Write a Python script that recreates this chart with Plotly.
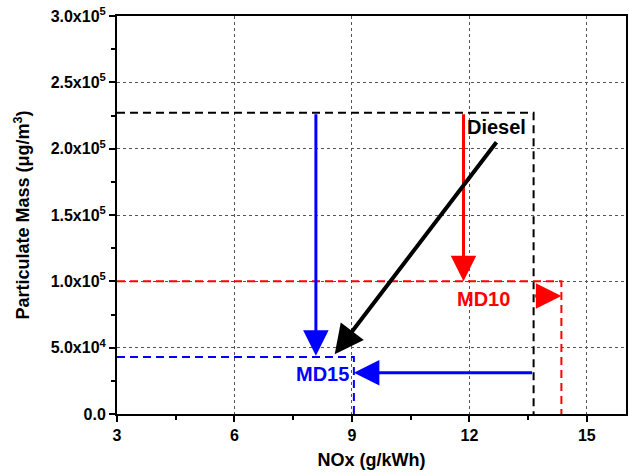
import plotly.graph_objects as go

# ---- data ----
fuels = ["Diesel", "MD10", "MD15"]
nox = [13.64, 14.35, 9.05]          # g/kWh
pm = [2.27e5, 1.0e5, 0.43e5]        # ug/m3
colors = ["black", "red", "blue"]

x_tick_vals = [3, 6, 9, 12, 15]
y_tick_vals = [0, 5e4, 1e5, 1.5e5, 2e5, 2.5e5, 3e5]
y_tick_text = ["0.0", "5.0x10<sup>4</sup>", "1.0x10<sup>5</sup>", "1.5x10<sup>5</sup>",
               "2.0x10<sup>5</sup>", "2.5x10<sup>5</sup>", "3.0x10<sup>5</sup>"]

# arrows: (tail_x, tail_y, tip_x, tip_y, color)
arrows = [
    (8.08, 2.27e5, 8.08, 0.44e5, "blue"),
    (11.85, 2.27e5, 11.85, 1.0e5, "red"),
    (13.64, 0.89e5, 14.35, 0.89e5, "red"),
    (13.64, 0.31e5, 9.05, 0.31e5, "blue"),
    (12.72, 2.06e5, 8.56, 0.45e5, "black"),
]
# labels: (text, x, y, color)
labels = [
    ("Diesel", 12.69, 2.16e5, "black"),
    ("MD10", 12.36, 0.87e5, "red"),
    ("MD15", 8.25, 0.30e5, "blue"),
]

FONT = "Liberation Sans, Arial, sans-serif"

fig = go.Figure()
for f, xv, yv, c in zip(fuels, nox, pm, colors):
    fig.add_trace(go.Scatter(
        x=[3, xv, xv], y=[yv, yv, 0], mode="lines", name=f,
        line=dict(color=c, width=2, dash="8px,5px"), showlegend=False,
        hoverinfo="skip"))

for tx, ty, hx, hy, c in arrows:
    w = 4 if c == "black" else 3
    fig.add_annotation(x=hx, y=hy, ax=tx, ay=ty, xref="x", yref="y",
                       axref="x", ayref="y", showarrow=True, text="",
                       arrowhead=2, arrowsize=1.7 if w == 3 else 1.45, arrowwidth=w,
                       arrowcolor=c, standoff=0, startstandoff=0)

for t, xv, yv, c in labels:
    fig.add_annotation(x=xv, y=yv, xref="x", yref="y", text="<b>%s</b>" % t,
                       showarrow=False, font=dict(family=FONT, size=20, color=c))

axis_common = dict(
    showline=True, linecolor="black", linewidth=2, mirror=True,
    ticks="outside", ticklen=6, tickwidth=2, tickcolor="black",
    showgrid=True, gridcolor="#555", griddash="dot", gridwidth=1,
    zeroline=False, automargin=False,
    tickfont=dict(family=FONT, size=16, color="black"),
)

fig.update_xaxes(
    range=[3, 16], tickvals=x_tick_vals,
    ticktext=["<b>%d</b>" % v for v in x_tick_vals],
    minor=dict(dtick=1.5, tick0=3, ticklen=4, tickwidth=2, tickcolor="black", ticks="outside", showgrid=False),
    title=dict(text="<b>NOx (g/kWh)</b>", font=dict(family=FONT, size=18, color="black"), standoff=10),
    **axis_common)
fig.update_yaxes(
    range=[0, 3e5], tickvals=y_tick_vals,
    ticktext=["<b>%s</b>" % t for t in y_tick_text],
    minor=dict(dtick=2.5e4, tick0=0, ticklen=4, tickwidth=2, tickcolor="black", ticks="outside", showgrid=False),
    title=dict(text="<b>Particulate Mass (μg/m<sup>3</sup>)</b>", font=dict(family=FONT, size=18, color="black"), standoff=16),
    **axis_common)

fig.update_layout(
    width=629, height=474,
    margin=dict(l=117, r=3, t=16, b=60),
    plot_bgcolor="white", paper_bgcolor="white",
    showlegend=False,
)

# remove the browser's default 8px body margin so the figure fills the window
fig.write_html("out.html", config={"displayModeBar": False},
               post_script="document.body.style.margin='0';document.body.style.overflow='hidden';")
